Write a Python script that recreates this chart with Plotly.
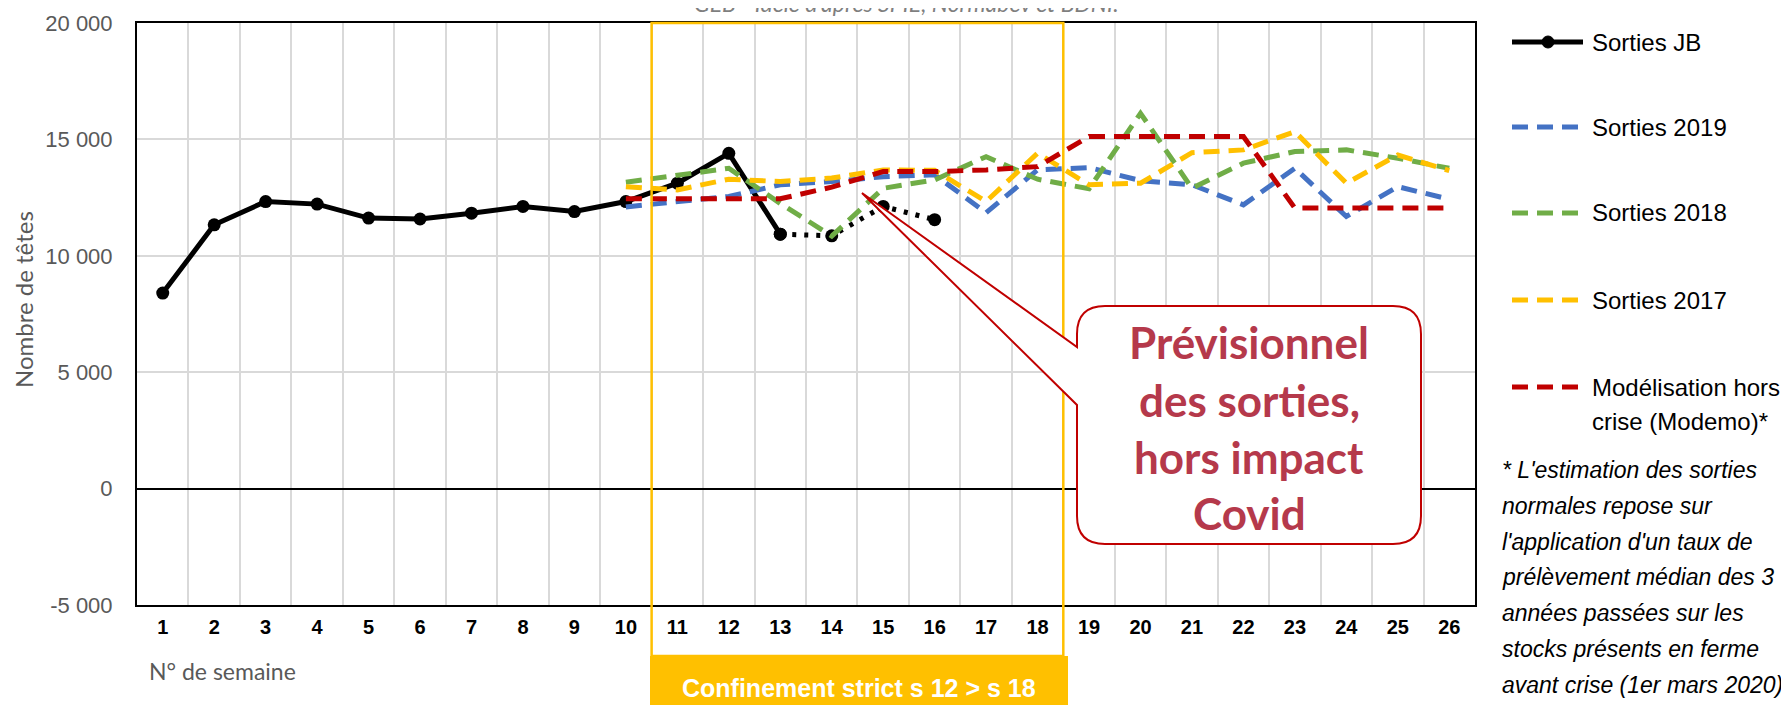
import plotly.graph_objects as go

# semaines et sorties hebdomadaires (têtes)
weeks = list(range(1, 27))
jb_weeks = list(range(1, 14))
jb_values = [8400, 11330, 12330, 12220, 11620, 11580, 11830, 12120, 11900, 12330, 13120, 14400, 10930]
jb_proj_weeks = [13, 14, 15, 16]
jb_proj_values = [10930, 10860, 12120, 11550]

ref_weeks = list(range(10, 27))
s2019 = [12100, 12350, 12550, 13050, 13190, 13400, 13480, 11850, 13690, 13790, 13230, 13050, 12190, 13760, 11690, 12970, 12430]
s2018 = [13160, 13480, 13760, 12250, 10850, 12900, 13260, 14260, 13290, 12880, 16120, 12900, 13980, 14480, 14550, 14190, 13760]
s2017 = [12970, 12830, 13290, 13190, 13340, 13690, 13670, 12330, 14410, 13050, 13120, 14430, 14550, 15330, 13120, 14330, 13660]
modemo = [12450, 12450, 12450, 12450, 12950, 13620, 13620, 13690, 13830, 15120, 15120, 15120, 15120, 12050, 12050, 12050, 12050]

y_ticks = [-5000, 0, 5000, 10000, 15000, 20000]
lockdown = (10.5, 18.5)

SANS = "Liberation Sans, Arial, sans-serif"
SOFT = "Lato, Open Sans, sans-serif"
DASH = "16px,9px"

# the page body adds an 8px margin, so the figure is built 8px smaller
OFF = 8
PL, PT, PW, PH = 137, 23, 1338, 582  # plot area on the page
W, H = 1789 - OFF, 705 - OFF


def px(x):
    return (x - PL) / PW


def py(y):
    return (PT + PH - y) / PH


def wx(week):
    return (week - 0.5) / len(weeks)


fig = go.Figure()

fig.add_trace(go.Scatter(
    x=jb_weeks, y=jb_values, mode="lines+markers", name="Sorties JB",
    line=dict(color="black", width=5), marker=dict(color="black", size=13)))
fig.add_trace(go.Scatter(
    x=jb_proj_weeks, y=jb_proj_values, mode="lines+markers", showlegend=False,
    line=dict(color="black", width=5, dash="4px,8px"), marker=dict(color="black", size=13)))

series = [
    ("Sorties 2019", s2019, "#4472C4"),
    ("Sorties 2018", s2018, "#70AD47"),
    ("Sorties 2017", s2017, "#FFC000"),
    ("Modélisation hors crise (Modemo)*", modemo, "#C00000"),
]
for name, vals, col in series:
    fig.add_trace(go.Scatter(
        x=ref_weeks, y=vals, mode="lines", name=name,
        line=dict(color=col, width=5, dash=DASH)))

shapes = []
annotations = []


def text(x, y, s, font, **kw):
    d = dict(xref="paper", yref="paper", x=px(x), y=py(y), text=s, showarrow=False,
             xanchor="center", yanchor="middle", font=font)
    d.update(kw)
    annotations.append(d)


# confinement
shapes.append(dict(type="rect", xref="paper", yref="paper",
                   x0=wx(lockdown[0]), x1=wx(lockdown[1]),
                   y0=py(656), y1=1, line=dict(color="#FFC000", width=2.5), layer="above"))
shapes.append(dict(type="rect", xref="paper", yref="paper",
                   x0=px(650), x1=px(1068), y0=py(712), y1=py(656),
                   fillcolor="#FFC000", line=dict(width=0), layer="above"))
text(859, 688, "Confinement strict s 12 > s 18",
     dict(family=SANS, size=25, color="white", weight="bold"))

# bulle
r = 28
x0, x1, y0, y1 = 1077, 1421, 306, 544
pts = [("M", x0 + r, y0), ("L", x1 - r, y0), ("Q", x1, y0, x1, y0 + r), ("L", x1, y1 - r),
       ("Q", x1, y1, x1 - r, y1), ("L", x0 + r, y1), ("Q", x0, y1, x0, y1 - r),
       ("L", x0, 405), ("L", 862, 193), ("L", x0, 347), ("L", x0, y0 + r),
       ("Q", x0, y0, x0 + r, y0)]
path = ""
for p in pts:
    cmd, coords = p[0], p[1:]
    path += cmd + " " + " ".join(
        f"{px(coords[i]):.5f},{py(coords[i + 1]):.5f}" for i in range(0, len(coords), 2)) + " "
path += "Z"
shapes.append(dict(type="path", xref="paper", yref="paper", path=path,
                   fillcolor="white", line=dict(color="#C00000", width=2), layer="above"))
for txt, yy in zip(["Prévisionnel", "des sorties,", "hors impact", "Covid"], [342, 400, 457, 513]):
    text(1249, yy, txt, dict(family=SOFT, size=44, color="#B5394B", weight="bold"))

# légende
leg_font = dict(family=SANS, size=24, color="black")
leg_items = [("Sorties JB", "black", "solid", 42), ("Sorties 2019", "#4472C4", DASH, 127),
             ("Sorties 2018", "#70AD47", DASH, 213), ("Sorties 2017", "#FFC000", DASH, 300),
             ("Modélisation hors", "#C00000", DASH, 387)]
for label, col, dash, yy in leg_items:
    shapes.append(dict(type="line", xref="paper", yref="paper", x0=px(1512), x1=px(1583),
                       y0=py(yy), y1=py(yy), line=dict(color=col, width=5, dash=dash)))
    text(1590, yy, label, leg_font, xanchor="left")
text(1590, 421, "crise (Modemo)*", leg_font, xanchor="left")
shapes.append(dict(type="circle", xref="paper", yref="paper",
                   x0=px(1542), x1=px(1554), y0=py(36), y1=py(48),
                   fillcolor="black", line=dict(color="black", width=1)))

note_lines = ["* L'estimation des sorties", "normales repose sur", "l'application d'un taux de",
              "prélèvement médian des 3", "années passées sur les", "stocks présents en ferme",
              "avant crise (1er mars 2020)"]
for i, line in enumerate(note_lines):
    text(1500, 470 + i * 35.8, "<i>" + line + "</i>", dict(family=SANS, size=23, color="black"),
         xanchor="left")

# titres d'axes et source
text(23, 300, "Nombre de têtes", dict(family=SOFT, size=24, color="#595959"), textangle=-90)
text(147, 671, "N° de semaine", dict(family=SOFT, size=23, color="#595959"), xanchor="left")
text(906, 3, "<i>GEB - Idele d'après SPIE, Normabev et BDNI.</i>",
     dict(family=SOFT, size=23, color="#7F7F7F"))

fig.update_layout(
    width=W, height=H,
    margin=dict(l=PL - OFF, r=W - (PL - OFF) - PW, t=PT - OFF, b=H - (PT - OFF) - PH,
                autoexpand=False),
    plot_bgcolor="white", paper_bgcolor="white",
    showlegend=False,
    shapes=shapes, annotations=annotations,
    xaxis=dict(range=[0.5, 26.5], tickvals=weeks, ticktext=[str(w) for w in weeks],
               automargin=False,
               showgrid=False, zeroline=False, ticks="", ticklabelstandoff=3,
               minor=dict(tick0=0.5, dtick=1, showgrid=True, gridcolor="#D9D9D9", gridwidth=2),
               showline=True, mirror=True, linecolor="black", linewidth=2,
               tickfont=dict(family=SANS, size=20, color="black", weight="bold")),
    yaxis=dict(range=[-5000, 20000], tickvals=y_ticks, automargin=False,
               ticktext=[f"{v:,}".replace(",", " ") for v in y_ticks],
               showgrid=True, gridcolor="#D9D9D9", gridwidth=2,
               zeroline=True, zerolinecolor="black", zerolinewidth=2,
               showline=True, mirror=True, linecolor="black", linewidth=2,
               ticks="", ticklabelstandoff=18,
               tickfont=dict(family=SANS, size=22, color="#595959")),
)

fig.write_html("out.html")
